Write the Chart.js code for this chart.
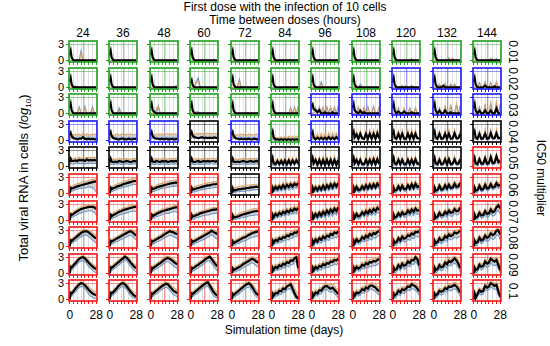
<!DOCTYPE html>
<html>
<head>
<meta charset="utf-8">
<script src="https://cdn.jsdelivr.net/npm/chart.js@4.4.0/dist/chart.umd.min.js"></script>
<style>
body{margin:0;width:550px;height:346px;background:#fff;position:relative;overflow:hidden;font-family:"Liberation Sans",Arial,sans-serif;color:#000}
.t{position:absolute;white-space:nowrap;line-height:1;transform:translate(-50%,-50%)}
canvas{position:absolute}
</style>
</head>
<body>
<script>
/* data: values in tenths of log10 */
const days = [0,1,2,4,6,8,10,12,14,16,18,20,22,24,26,28];
const intervals = ["24","36","48","60","72","84","96","108","120","132","144"];
const multipliers = ["0.01","0.02","0.03","0.04","0.05","0.06","0.07","0.08","0.09","0.1"];

// frame colour of each panel (G green, B blue, K black, R red)
const frames01 = ["G","G","G","G","G","G","G","G","G","G","G"];
const frames02 = ["G","G","G","G","G","G","G","G","B","B","B"];
const frames03 = ["G","G","G","G","G","G","B","B","B","B","B"];
const frames04 = ["B","B","B","K","B","G","B","K","K","K","K"];
const frames05 = ["K","K","K","K","K","K","K","K","K","K","R"];
const frames06 = ["R","R","R","R","K","R","R","R","R","R","R"];
const frames07 = ["R","R","R","R","R","R","R","R","R","R","R"];
const frames08 = ["R","R","R","R","R","R","R","R","R","R","R"];
const frames09 = ["R","R","R","R","R","R","R","R","R","R","R"];
const frames10 = ["R","R","R","R","R","R","R","R","R","R","R"];

const flat = [0,0,0,0,0,0,0,0,0,0,0,0,0,0,0,0];
const spike = [10,17,5,0,0,0,0,0,0,0,0,0,0,0,0,0];

// 0.01
const mean01 = [spike,spike,spike,spike,spike,spike,spike,spike,spike,spike,spike];
const blue01 = [
  [0,0,0,0,0,0,0,18,0,0,0,0,0,0,0,0],flat,flat,flat,flat,flat,flat,flat,
  [0,0,0,0,0,0,0,0,0,0,0,3,0,0,0,0],
  [0,0,0,0,0,0,0,0,0,5,0,4,0,0,0,0],
  [0,0,0,0,0,0,0,0,0,0,4,0,0,3,0,0]];
const tan01 = [
  [0,0,0,0,0,0,0,14,0,0,0,0,0,0,0,0],flat,flat,flat,flat,flat,flat,flat,flat,
  [0,0,0,0,0,0,0,0,0,4,0,3,0,0,0,0],
  [0,0,0,0,0,0,0,0,0,0,3,0,0,2,0,0]];

// 0.02
const mean02 = [spike,spike,spike,[8,13,4,0,0,0,0,0,0,0,0,0,0,0,0,0],spike,spike,spike,spike,spike,
  [10,17,5,0,0,0,3,0,0,0,0,0,0,0,0,0],
  [10,17,5,0,0,0,0,3,0,0,0,0,2,0,0,0]];
const blue02 = [
  [0,0,0,0,3,0,0,0,0,0,0,0,0,0,0,0],flat,
  [0,0,0,0,0,0,0,0,0,0,0,0,0,0,2,3],
  [0,0,0,0,12,18,0,0,0,0,0,0,0,0,0,0],
  [0,0,0,0,0,15,0,0,0,0,0,0,0,0,0,0],flat,
  [0,0,0,0,0,0,10,0,0,0,0,0,0,0,0,0],
  [0,0,0,0,0,6,0,0,0,0,0,0,0,0,0,0],
  [0,0,0,0,0,0,4,0,3,0,0,4,0,0,0,0],
  [0,0,0,0,6,0,0,7,0,0,6,0,6,0,0,0],
  [0,0,0,0,9,0,0,10,0,0,9,0,0,10,0,0]];
const tan02 = [
  [0,0,0,0,2,0,0,0,0,0,0,0,0,0,0,0],flat,
  [0,0,0,0,0,0,0,0,0,0,0,0,0,0,2,2],
  [0,0,0,0,10,10,0,0,0,0,0,0,0,0,0,0],
  [0,0,0,0,0,12,0,0,0,0,0,0,0,0,0,0],flat,
  [0,0,0,0,0,0,7,0,0,0,0,0,0,0,0,0],
  [0,0,0,0,0,4,0,0,0,0,0,0,0,0,0,0],
  [0,0,0,0,0,0,3,0,3,0,0,3,0,0,0,0],
  [0,0,0,0,5,0,0,6,0,0,5,0,5,0,0,0],
  [0,0,0,0,7,0,0,8,0,0,8,0,0,9,0,0]];

// 0.03
const mean03 = [spike,spike,[10,17,6,2,0,0,0,0,0,0,0,0,0,0,0,0],spike,spike,spike,
  [12,16,8,6,2,6,0,0,2,0,0,0,2,0,0,0],
  [10,17,6,2,0,5,0,2,0,0,0,0,0,0,0,0],
  [10,17,5,0,3,0,0,3,0,0,0,2,0,0,0,0],
  [10,17,5,0,5,0,0,5,0,0,2,0,0,0,0,0],
  [10,17,5,0,5,0,0,5,0,0,5,0,0,9,0,0]];
const blue03 = [
  [0,0,0,0,0,0,12,0,0,13,0,0,0,12,0,0],
  [0,0,0,0,0,0,10,0,0,0,0,0,0,0,0,0],
  [0,0,0,0,0,14,0,0,0,0,0,0,0,0,0,0],
  [0,0,0,0,3,3,0,0,0,0,0,0,0,0,0,0],
  [0,0,0,0,0,0,0,0,0,2,0,0,0,0,0,0],
  [0,0,0,0,0,0,0,0,0,0,0,10,0,12,0,13],
  [0,0,0,10,0,12,0,10,0,12,0,10,0,12,0,13],
  [0,0,0,0,12,0,0,10,0,12,0,0,13,0,0,12],
  [0,0,0,0,10,0,0,8,0,0,10,0,0,10,0,0],
  [0,0,0,0,10,0,0,12,0,0,15,0,0,16,0,14],
  [0,0,0,0,12,0,0,14,0,0,18,0,0,20,0,15]];
const tan03 = [
  [0,0,0,0,0,0,10,0,0,11,0,0,0,9,0,0],
  [0,0,0,0,0,0,6,0,0,0,0,0,0,0,0,0],
  [0,0,0,0,10,12,0,0,0,0,0,0,0,0,0,0],
  [0,0,0,0,2,0,0,0,0,0,0,0,0,0,0,0],flat,
  [0,0,0,0,0,0,0,0,0,0,0,8,0,10,0,12],
  [0,0,0,8,0,10,0,12,0,10,0,12,0,10,0,12],
  [0,0,0,0,10,0,0,12,0,10,0,0,11,0,0,13],
  [0,0,0,0,8,0,0,10,0,0,8,0,0,9,0,0],
  [0,0,0,0,8,0,0,14,0,0,13,0,0,17,0,15],
  [0,0,0,0,10,0,0,16,0,0,20,0,0,21,0,17]];

// 0.04
const mean04 = [
  [10,14,8,4,3,2,3,3,6,3,2,3,2,3,2,2],
  [10,15,8,4,3,2,2,3,3,2,2,3,2,2,3,2],
  [10,15,8,4,3,3,2,3,2,3,2,2,3,2,2,3],
  [10,15,9,6,5,4,5,6,4,5,4,5,4,5,5,4],
  [10,15,8,4,3,2,3,2,3,2,3,2,2,3,2,2],
  [10,16,6,2,2,1,2,1,2,1,2,1,2,1,2,1],
  [10,15,6,2,5,2,5,2,5,2,6,2,5,2,6,2],
  [10,16,6,11,3,12,4,3,12,3,12,3,12,3,13,4],
  [10,16,6,3,12,3,12,3,3,12,3,12,3,12,4,4],
  [10,16,6,3,12,3,4,12,3,12,3,4,13,4,4,12],
  [10,16,6,3,12,3,4,12,3,4,13,4,4,13,4,5]];
const blue04 = [
  [0,6,4,4,5,4,6,5,6,4,5,6,5,4,5,5],
  [0,6,5,4,6,5,4,5,6,5,4,6,5,5,4,6],
  [0,6,4,5,6,4,5,6,4,5,6,5,4,6,5,5],
  [0,8,5,4,6,5,6,5,6,5,6,5,6,5,6,5],
  [0,6,4,4,5,5,6,4,5,5,6,4,5,6,4,5],
  [0,4,1,0,2,1,3,1,3,1,3,1,3,1,3,1],
  [0,6,2,0,6,0,7,0,7,0,8,0,8,0,8,0],
  [0,10,2,14,1,15,2,1,16,1,16,1,17,1,17,2],
  [0,10,2,1,15,1,16,1,1,16,1,17,1,17,2,2],
  [0,10,2,1,15,1,2,16,1,17,1,2,17,2,2,17],
  [0,10,2,1,15,1,2,17,1,2,18,2,2,18,2,3]];
const tan04 = [
  [0,13,11,9,12,10,12,9,13,10,12,11,10,12,11,12],
  [0,12,10,9,11,12,10,11,12,10,12,11,12,10,11,12],
  [0,13,11,10,12,11,12,10,12,11,13,11,12,11,12,11],
  [0,14,12,11,13,12,13,12,13,12,14,12,13,12,13,12],
  [0,13,10,9,11,10,12,10,11,10,12,10,11,10,12,11],
  [0,8,5,3,6,4,7,4,7,4,8,4,8,5,8,5],
  [0,12,5,3,12,3,13,3,13,3,14,3,14,3,14,3],
  [0,12,4,17,3,18,4,3,18,3,19,3,19,3,20,4],
  [0,12,4,3,18,3,19,3,3,19,3,20,3,20,4,4],
  [0,12,4,3,18,3,4,19,3,19,3,4,20,4,4,20],
  [0,12,4,3,18,3,4,20,3,4,20,4,4,21,4,5]];

// 0.05
const mean05 = [
  [8,14,10,10,11,10,12,11,12,10,13,11,12,11,12,11],
  [8,14,9,8,9,8,10,9,8,9,10,9,8,9,10,9],
  [8,14,9,8,10,9,8,10,9,10,8,9,10,9,10,9],
  [8,14,9,8,9,10,8,9,10,9,10,9,10,10,9,10],
  [8,14,9,8,9,8,9,10,9,8,9,10,9,9,10,9],
  [8,15,6,4,10,4,10,4,11,4,11,4,11,5,11,5],
  [8,15,6,12,3,12,3,12,3,12,3,12,3,12,3,12],
  [8,15,6,12,4,12,4,4,12,4,12,4,13,4,13,5],
  [8,15,6,4,12,4,12,4,4,12,4,12,4,13,5,5],
  [8,15,6,4,12,4,5,13,4,13,4,5,13,5,5,13],
  [8,15,6,4,13,5,5,15,5,6,17,6,7,19,8,10]];
const blue05 = [
  [0,6,5,4,6,5,6,5,6,4,6,5,6,5,6,5],
  [0,6,4,3,5,4,5,4,3,4,5,4,3,4,5,4],
  [0,6,4,3,5,4,3,5,4,5,3,4,5,4,5,4],
  [0,6,4,3,4,5,3,4,5,4,5,4,5,5,4,5],
  [0,6,4,3,4,3,4,5,4,3,4,5,4,4,5,4],
  [0,8,2,1,8,1,8,1,9,1,9,1,9,2,9,2],
  [0,8,2,9,0,9,0,9,0,10,0,10,0,10,0,10],
  [0,8,2,9,1,9,1,1,9,1,9,1,10,1,10,2],
  [0,8,2,1,9,1,9,1,1,9,1,9,1,10,2,2],
  [0,8,2,1,9,1,2,10,1,10,1,2,10,2,2,10],
  [0,8,2,1,10,2,2,11,2,3,13,3,4,15,4,6]];
const tan05 = [
  [0,17,15,14,16,15,17,15,16,15,17,16,17,16,17,16],
  [0,17,14,13,14,13,15,14,13,14,15,14,13,14,15,14],
  [0,17,14,13,15,14,13,15,14,15,13,14,15,14,15,14],
  [0,17,14,13,14,15,13,14,15,14,15,14,15,15,14,15],
  [0,17,14,13,14,13,14,15,14,13,14,15,14,14,15,14],
  [0,17,9,7,15,7,15,7,16,7,16,7,17,8,17,8],
  [0,17,9,17,6,17,6,18,6,18,6,18,6,19,6,19],
  [0,17,9,17,7,17,7,7,18,7,18,7,19,7,19,8],
  [0,17,9,7,17,7,17,7,7,18,7,18,7,19,8,8],
  [0,17,9,7,17,7,8,18,7,18,7,8,19,8,8,19],
  [0,17,9,7,18,8,8,20,8,9,22,9,10,24,11,14]];

// 0.06
const mean06 = [
  [0,10,9,10,12,13,14,15,16,17,18,19,20,21,22,22],
  [0,10,8,10,11,13,14,15,17,18,19,20,21,22,23,23],
  [0,10,8,9,11,12,13,14,15,16,17,18,19,19,20,20],
  [0,10,7,8,9,10,11,12,13,14,15,15,16,17,17,18],
  [0,9,5,6,7,8,8,9,9,10,10,11,11,12,12,12],
  [0,10,6,12,8,13,9,15,10,16,12,17,13,18,15,19],
  [0,10,5,11,6,12,7,14,8,15,10,17,11,18,13,19],
  [0,10,5,12,6,7,13,8,15,9,16,10,17,11,18,13],
  [0,10,5,6,13,7,14,8,8,15,9,17,10,18,12,13],
  [0,10,5,6,14,7,8,15,9,16,10,11,18,12,13,19],
  [0,10,5,6,14,7,8,16,9,10,17,11,12,19,14,16]];
const blue06 = [
  [0,5,4,5,7,8,9,9,10,10,11,12,12,10,8,2],
  [0,5,3,5,6,8,9,10,12,12,13,14,15,16,17,16],
  [0,5,3,4,6,7,8,9,10,10,11,12,13,13,14,14],
  [0,5,2,3,4,5,6,7,8,8,9,9,10,11,11,12],
  [0,4,1,2,3,3,4,4,4,5,5,6,6,7,7,7],
  [0,5,2,7,3,8,4,9,5,10,6,11,7,12,9,13],
  [0,5,1,6,2,7,3,8,4,9,5,11,6,12,8,13],
  [0,5,1,7,2,3,8,4,9,5,10,6,11,7,12,8],
  [0,5,1,2,8,3,9,4,4,10,5,11,6,12,7,8],
  [0,5,1,2,9,3,4,10,5,11,6,7,12,8,9,13],
  [0,5,1,2,9,3,4,11,5,6,12,7,8,13,9,11]];
const tan06 = [
  [0,14,13,15,17,18,19,20,21,22,23,24,25,26,26,27],
  [0,14,12,14,16,18,19,20,22,23,24,25,26,27,28,28],
  [0,14,12,13,15,17,18,19,20,21,22,23,24,24,25,25],
  [0,14,11,12,14,15,16,17,18,19,20,20,21,22,22,23],
  [0,14,10,11,12,13,13,14,14,15,15,16,16,17,17,17],
  [0,15,11,17,13,18,14,20,15,21,17,22,18,23,20,24],
  [0,15,10,16,11,17,12,19,13,20,15,22,16,23,18,24],
  [0,15,10,17,11,12,18,13,20,14,21,15,22,16,23,18],
  [0,15,10,11,18,12,19,13,13,20,14,22,15,23,17,18],
  [0,15,10,11,19,12,13,20,14,21,15,16,23,17,18,24],
  [0,15,10,11,19,12,13,21,14,15,22,16,17,24,19,21]];

// 0.07
const mean07 = [
  [0,11,10,12,15,17,19,21,22,23,24,25,25,25,24,21],
  [0,10,8,10,12,14,16,17,19,20,21,22,23,24,25,25],
  [0,10,8,10,12,14,15,17,18,19,20,21,22,23,24,24],
  [0,10,7,8,10,11,13,14,15,16,17,18,19,20,20,21],
  [0,9,5,6,7,8,10,11,12,13,14,15,16,17,17,18],
  [0,10,6,12,9,14,11,16,13,18,15,20,17,22,19,23],
  [0,10,5,12,7,14,9,16,11,18,13,20,15,22,17,24],
  [0,10,5,12,7,9,15,11,17,13,19,15,21,17,23,20],
  [0,10,5,7,13,9,15,11,12,18,14,20,16,22,18,19],
  [0,10,5,7,14,9,10,16,12,18,14,15,21,17,18,24],
  [0,10,5,7,14,9,10,17,12,13,20,15,17,24,28,22]];
const blue07 = [
  [0,6,5,7,9,11,13,14,15,16,17,18,18,17,15,10],
  [0,5,3,5,6,8,10,11,12,13,14,15,16,17,17,16],
  [0,5,3,5,7,8,9,11,12,13,13,14,15,16,16,15],
  [0,5,2,3,5,6,7,8,9,10,10,11,12,13,13,13],
  [0,4,1,2,3,3,5,6,6,7,8,9,9,10,10,10],
  [0,5,1,7,4,9,6,11,8,12,9,14,11,15,12,15],
  [0,5,1,7,2,9,4,10,5,12,7,13,8,15,10,16],
  [0,5,1,7,2,4,10,6,11,7,13,9,14,10,16,13],
  [0,5,1,2,8,4,10,6,6,12,8,14,9,15,11,12],
  [0,5,1,2,9,4,5,10,6,12,8,8,14,10,11,16],
  [0,5,1,2,9,4,5,11,6,7,13,8,9,16,19,12]];
const tan07 = [
  [0,15,14,16,19,21,23,25,26,27,28,29,29,29,28,26],
  [0,14,12,14,16,18,20,21,23,24,25,26,27,28,29,29],
  [0,14,12,14,16,18,19,21,22,23,24,25,26,27,28,28],
  [0,14,11,12,14,15,17,18,19,20,21,22,23,24,24,25],
  [0,13,10,11,12,13,15,16,17,18,19,20,21,22,22,23],
  [0,15,11,17,14,19,16,21,18,23,20,25,22,27,24,28],
  [0,15,10,17,12,19,14,21,16,23,18,25,20,27,22,29],
  [0,15,10,17,12,14,20,16,22,18,24,20,26,22,28,25],
  [0,15,10,12,18,14,20,16,17,23,19,25,21,27,23,24],
  [0,15,10,12,19,14,15,21,17,23,19,20,26,22,23,29],
  [0,15,10,12,19,14,15,22,17,18,25,20,22,29,32,27]];

// 0.08
const mean08 = [
  [0,11,10,13,16,19,22,25,27,28,28,26,23,20,17,15],
  [0,10,9,11,13,15,17,19,21,23,25,27,28,26,23,20],
  [0,10,9,11,13,15,17,19,22,24,26,28,27,26,24,23],
  [0,10,8,10,12,14,16,18,20,22,24,26,29,27,25,23],
  [0,9,6,8,10,12,14,16,17,19,21,23,25,26,27,28],
  [0,10,7,12,10,15,13,17,16,20,19,23,22,26,25,29],
  [0,10,6,13,9,15,12,18,15,20,18,23,21,26,24,28],
  [0,10,6,13,9,11,17,14,20,17,23,20,25,23,27,28],
  [0,10,6,8,15,11,18,14,16,21,19,24,22,27,26,28],
  [0,10,6,8,15,11,13,19,16,22,19,21,26,24,26,29],
  [0,10,6,8,16,11,13,20,16,18,24,21,23,29,30,22]];
const blue08 = [
  [0,6,5,8,10,13,16,18,20,21,21,18,15,12,9,6],
  [0,5,4,6,8,9,11,13,14,16,18,20,21,19,15,12],
  [0,5,4,6,8,9,11,13,15,17,19,21,20,18,16,14],
  [0,5,3,5,7,8,10,12,13,15,17,19,22,19,16,13],
  [0,4,2,3,5,6,8,10,10,12,14,16,17,18,19,19],
  [0,5,2,7,5,9,7,11,10,13,12,16,15,19,18,21],
  [0,5,1,8,4,9,6,12,9,13,11,16,14,18,16,20],
  [0,5,1,8,4,5,11,8,13,10,15,12,17,15,19,20],
  [0,5,1,3,9,5,12,8,9,14,11,16,14,19,17,19],
  [0,5,1,3,9,5,7,13,9,15,12,13,18,15,17,20],
  [0,5,1,3,10,5,7,14,9,11,16,13,14,21,21,12]];
const tan08 = [
  [0,15,14,17,20,23,26,29,31,31,31,30,28,26,23,21],
  [0,14,13,15,17,19,21,23,25,27,29,30,31,30,28,26],
  [0,14,13,15,17,19,21,23,26,28,30,31,31,30,29,28],
  [0,14,12,14,16,18,20,22,24,26,28,30,32,31,30,28],
  [0,13,11,12,14,16,18,20,21,23,25,27,29,30,31,31],
  [0,15,12,17,15,20,18,22,21,25,24,28,27,31,30,33],
  [0,15,11,18,14,20,17,23,20,25,23,28,26,31,29,32],
  [0,15,11,18,14,16,22,19,25,22,28,25,30,28,31,32],
  [0,15,11,13,20,16,23,19,21,26,24,29,27,31,31,32],
  [0,15,11,13,20,16,18,24,21,27,24,26,31,29,31,33],
  [0,15,11,13,21,16,18,25,21,23,29,26,28,33,33,28]];

// 0.09
const mean09 = [
  [0,12,11,15,19,23,27,29,30,28,24,20,16,13,10,8],
  [0,11,10,13,16,19,22,25,28,31,29,25,20,16,12,10],
  [0,10,9,12,14,17,19,22,25,27,29,27,25,22,19,17],
  [0,10,9,11,14,16,19,21,24,27,29,31,27,22,17,13],
  [0,9,6,8,10,12,14,17,19,21,23,26,27,25,22,20],
  [0,10,7,12,10,15,13,18,16,21,19,24,23,28,30,10],
  [0,10,6,12,9,14,12,17,15,19,18,22,21,25,24,27],
  [0,10,6,12,9,11,16,14,19,17,21,20,23,22,25,27],
  [0,10,6,8,15,11,18,14,16,22,19,25,24,30,26,15],
  [0,10,6,8,15,11,13,20,17,23,21,24,28,24,18,10],
  [0,10,6,8,16,12,14,22,18,20,27,24,22,25,16,6]];
const blue09 = [
  [0,7,6,10,13,17,21,23,24,22,18,13,9,6,3,1],
  [0,6,5,8,10,13,16,19,22,25,23,18,13,9,5,3],
  [0,5,4,7,8,11,13,16,19,21,22,20,17,14,11,9],
  [0,5,4,6,8,10,13,15,18,21,23,24,19,14,9,5],
  [0,4,2,3,5,6,8,11,12,14,16,19,20,17,14,12],
  [0,5,2,7,5,9,7,12,10,14,12,17,16,21,22,3],
  [0,5,1,7,4,8,6,11,9,12,11,15,14,18,16,19],
  [0,5,1,7,4,5,10,8,12,10,14,12,15,14,17,18],
  [0,5,1,3,9,5,12,8,9,15,12,18,16,22,17,7],
  [0,5,1,3,9,5,7,14,10,16,14,17,20,16,10,3],
  [0,5,1,3,10,6,8,15,11,13,19,16,14,17,8,1]];
const tan09 = [
  [0,16,15,19,23,27,30,32,33,32,29,25,21,18,15,13],
  [0,15,14,17,20,23,26,29,31,33,32,29,25,21,17,15],
  [0,14,13,16,18,21,23,26,29,31,32,31,29,27,24,22],
  [0,14,13,15,18,20,23,25,28,31,32,33,31,27,23,19],
  [0,13,11,12,14,16,18,21,23,25,27,30,31,29,27,25],
  [0,15,12,17,15,20,18,23,21,26,24,29,28,32,33,18],
  [0,15,11,17,14,19,17,22,20,24,23,27,26,30,29,31],
  [0,15,11,17,14,16,21,19,24,22,26,25,28,27,30,31],
  [0,15,11,13,20,16,23,19,21,27,24,30,29,33,31,23],
  [0,15,11,13,20,16,18,25,22,28,26,29,32,30,25,18],
  [0,15,11,13,21,17,19,27,23,25,31,29,27,30,24,14]];

// 0.1
const mean10 = [
  [0,12,11,15,20,24,28,30,29,26,22,18,14,11,9,8],
  [0,12,11,14,18,22,26,29,30,28,24,19,14,10,7,5],
  [0,11,10,13,16,19,22,25,27,29,28,24,20,16,14,12],
  [0,11,10,13,16,19,22,25,28,30,32,26,20,14,10,7],
  [0,10,8,11,14,17,20,23,26,28,30,27,22,16,11,8],
  [0,10,7,12,11,16,15,20,19,24,26,28,20,12,5,2],
  [0,10,7,13,11,17,16,21,24,25,22,20,22,18,14,10],
  [0,10,7,13,11,14,19,17,22,20,25,26,24,22,18,15],
  [0,10,7,10,16,13,19,17,20,24,23,28,26,24,20,15],
  [0,10,7,10,16,14,16,21,19,24,23,25,27,24,19,13],
  [0,10,3,10,17,14,16,25,22,24,30,28,25,27,15,5]];
const blue10 = [
  [0,7,6,10,14,18,22,24,23,20,15,10,6,4,2,1],
  [0,7,6,9,12,16,20,23,24,22,18,12,7,4,2,0],
  [0,6,5,8,10,13,16,19,21,23,21,17,13,9,7,5],
  [0,6,5,8,10,13,16,19,22,24,25,19,13,7,4,2],
  [0,5,3,6,8,11,14,17,20,22,23,20,15,9,5,2],
  [0,5,2,7,6,10,9,14,13,18,19,21,13,5,1,0],
  [0,5,2,8,6,11,10,15,18,19,15,13,15,11,7,3],
  [0,5,2,8,6,8,13,11,16,14,19,19,17,15,11,8],
  [0,5,2,5,10,7,13,11,14,18,16,21,19,17,13,8],
  [0,5,2,5,10,8,10,15,13,18,16,18,20,17,12,6],
  [0,5,0,5,11,8,10,19,16,18,23,21,18,20,8,0]];
const tan10 = [
  [0,16,15,19,24,28,31,33,32,30,27,24,20,17,15,14],
  [0,16,15,18,22,26,29,32,33,32,29,25,20,16,13,11],
  [0,15,14,17,20,23,26,29,31,32,32,29,26,22,20,18],
  [0,15,14,17,20,23,26,29,31,33,34,31,26,21,17,14],
  [0,14,12,15,18,21,24,27,30,32,33,32,28,23,18,15],
  [0,15,12,17,16,21,20,25,24,29,31,33,28,21,14,10],
  [0,15,12,18,16,22,21,26,29,30,28,27,29,25,21,18],
  [0,15,12,18,16,19,24,22,27,25,30,31,30,28,25,22],
  [0,15,12,15,21,18,24,22,25,29,28,32,31,29,26,22],
  [0,15,12,15,21,19,21,26,24,29,28,30,32,30,26,20],
  [0,15,10,15,22,19,21,30,27,29,33,32,30,32,24,14]];

const frameRows = [frames01,frames02,frames03,frames04,frames05,frames06,frames07,frames08,frames09,frames10];
const meanRows = [mean01,mean02,mean03,mean04,mean05,mean06,mean07,mean08,mean09,mean10];
const blueRows = [blue01,blue02,blue03,blue04,blue05,blue06,blue07,blue08,blue09,blue10];
const tanRows = [tan01,tan02,tan03,tan04,tan05,tan06,tan07,tan08,tan09,tan10];

/* layout */
const X0 = 69, DX = 40.4, W = 28;
const Y0 = 41, DY = 26.6, H = 21;
const XMIN = -0.8, XMAX = 28.8, YMIN = -0.3, YMAX = 3.6;
const colours = {G:"rgb(30,160,30)", B:"rgb(25,25,245)", K:"rgb(0,0,0)", R:"rgb(245,20,20)"};
const faint = {G:"rgba(30,160,30,0.45)", B:"rgba(25,25,245,0.45)", K:"rgba(0,0,0,0.45)", R:"rgba(245,20,20,0.45)"};

function text(html, x, y, size, rot){
  const d = document.createElement("div");
  d.className = "t";
  d.innerHTML = html;
  d.style.left = x + "px";
  d.style.top = y + "px";
  d.style.fontSize = size + "px";
  if(rot) d.style.transform = "translate(-50%,-50%) rotate(" + rot + "deg)";
  document.body.appendChild(d);
}

const framePlugin = {
  id:"frame",
  afterDatasetsDraw(chart, args, opts){
    const a = chart.chartArea, c = chart.ctx;
    c.save();
    c.strokeStyle = opts.color;
    c.lineWidth = 1.6;
    c.strokeRect(a.left, a.top, a.right - a.left, a.bottom - a.top);
    c.restore();
  }
};

function pts(vals){
  return vals.map((v,i)=>({x:days[i], y:v/10}));
}

function panel(r, c){
  const bx = Math.round(X0 + c*DX), by = Math.round(Y0 + r*DY);
  const code = frameRows[r][c];
  const col = colours[code];
  const cv = document.createElement("canvas");
  cv.width = W + 5; cv.height = H + 5;
  cv.style.left = (bx - 4) + "px";
  cv.style.top = (by - 1) + "px";
  document.body.appendChild(cv);

  new Chart(cv, {
    type:"line",
    data:{
      datasets:[
        {data:pts(meanRows[r][c]), borderColor:"#000", borderWidth:2.2, pointRadius:0, fill:false},
        {data:pts(tanRows[r][c]), borderColor:"rgba(225,160,90,0.9)", borderWidth:1.1, pointRadius:0,
         fill:"+1", backgroundColor:"rgba(160,160,160,0.45)"},
        {data:pts(blueRows[r][c]), borderColor:"rgba(80,140,205,0.9)", borderWidth:1.1, pointRadius:0, fill:false}
      ]
    },
    options:{
      responsive:false, animation:false, devicePixelRatio:1,
      layout:{padding:{left:1,right:1,top:1,bottom:1}},
      plugins:{legend:{display:false}, tooltip:{enabled:false}, frame:{color:col}},
      scales:{
        x:{
          type:"linear", min:XMIN, max:XMAX,
          afterBuildTicks:s=>{ s.ticks = [0,4,8,12,14,16,20,24,28].map(v=>({value:v})); },
          ticks:{display:false},
          border:{display:false},
          grid:{
            tickLength:3, lineWidth:1,
            color:ctx=> ctx.tick && ctx.tick.value===14 ? faint[code] : "rgba(0,0,0,0.12)",
            tickColor:ctx=> ctx.tick && ctx.tick.value===14 ? "rgba(0,0,0,0)" : col
          }
        },
        y:{
          min:YMIN, max:YMAX,
          afterBuildTicks:s=>{ s.ticks = [{value:0},{value:3}]; },
          ticks:{display:false},
          border:{display:false},
          grid:{
            tickLength:3, lineWidth:1,
            color:ctx=> ctx.tick && ctx.tick.value===3 ? faint[code] : "rgba(0,0,0,0)",
            tickColor:col
          }
        }
      }
    },
    plugins:[framePlugin]
  });
}

for(let r=0;r<multipliers.length;r++){
  for(let c=0;c<intervals.length;c++) panel(r,c);
}

/* text */
text("First dose with the infection of 10 cells", 285, 7, 12);
text("Time between doses (hours)", 285, 20, 12);
intervals.forEach((s,c)=> text(s, Math.round(X0 + c*DX) + W/2, 33, 12));
multipliers.forEach((s,r)=>{
  const by = Math.round(Y0 + r*DY);
  text(s, 513, by + H/2, 12, 90);
  text("3", 61, by + H*(YMAX-3)/(YMAX-YMIN), 11);
  text("0", 61, by + H*YMAX/(YMAX-YMIN), 11);
});
const lastY = Math.round(Y0 + 9*DY) + H;
intervals.forEach((s,c)=>{
  const bx = Math.round(X0 + c*DX);
  text("0", bx + W*(0-XMIN)/(XMAX-XMIN), lastY + 14, 12);
  text("28", bx + W*(28-XMIN)/(XMAX-XMIN), lastY + 14, 12);
});
text("Simulation time (days)", 284, 330, 12);
text("Total viral RNA in cells (<i>log</i><sub style=\"font-size:8px\">10</sub>)", 25, 178, 13, -90);
text("IC50 multiplier", 541, 178, 12, 90);
</script>
</body>
</html>
